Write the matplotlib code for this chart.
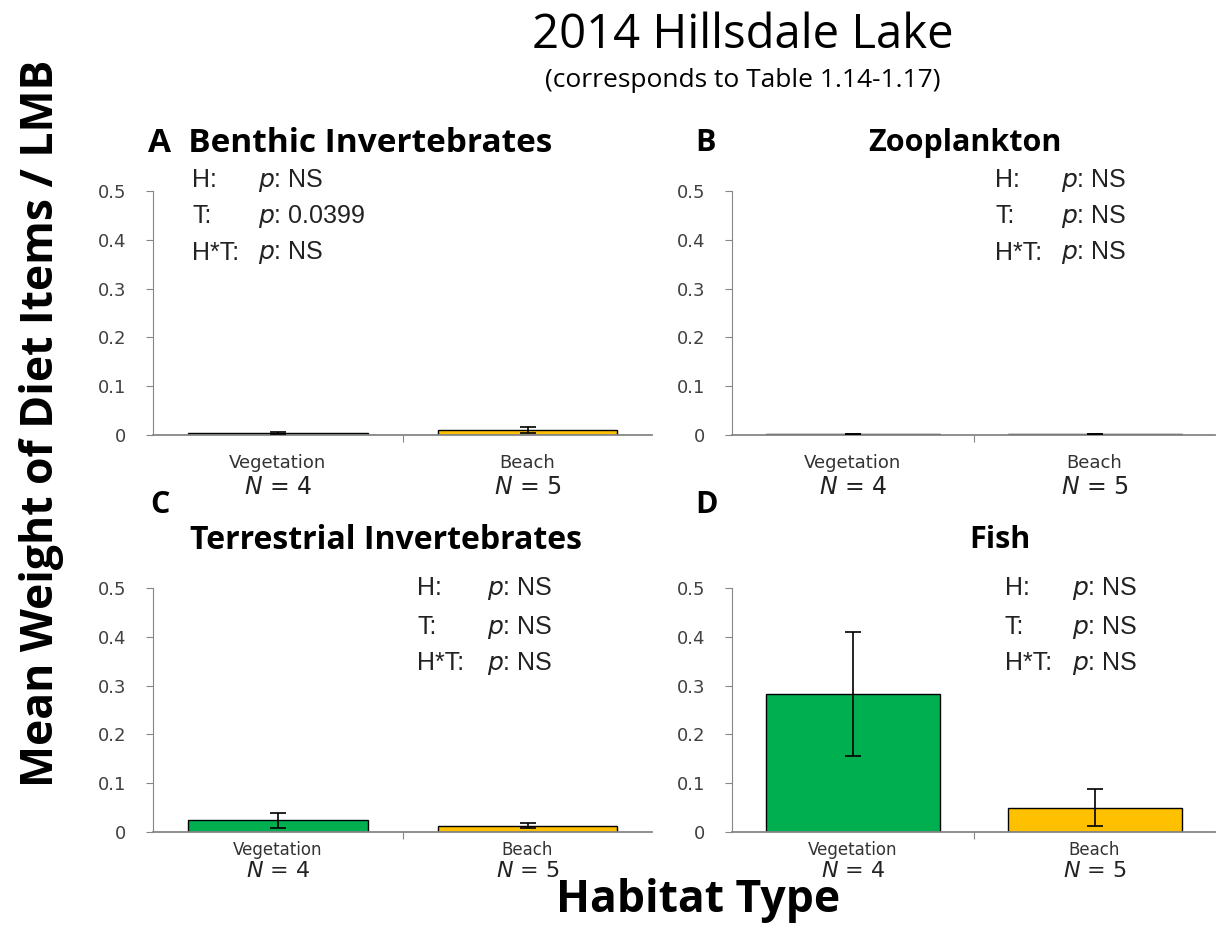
import numpy as np
import matplotlib.pyplot as plt

# ---- data ----
habitats = ['Vegetation', 'Beach']
n_labels = ['4', '5']
panel_letters = ['A', 'B', 'C', 'D']
panel_titles = ['Benthic Invertebrates', 'Zooplankton',
                'Terrestrial Invertebrates', 'Fish']
means = {
    'A': [0.003, 0.010],
    'B': [0.002, 0.002],
    'C': [0.024, 0.013],
    'D': [0.283, 0.050],
}
errors = {
    'A': [0.002, 0.006],
    'B': [0.0, 0.0],
    'C': [0.016, 0.005],
    'D': [0.127, 0.038],
}
stats = {
    'A': ['NS', '0.0399', 'NS'],
    'B': ['NS', 'NS', 'NS'],
    'C': ['NS', 'NS', 'NS'],
    'D': ['NS', 'NS', 'NS'],
}
stat_names = ['H:', 'T:', 'H*T:']
yticks = [0, 0.1, 0.2, 0.3, 0.4, 0.5]
ytick_labels = ['0', '0.1', '0.2', '0.3', '0.4', '0.5']
bar_colors = ['#00B050', '#FFC000']

TITLE_FONT = 'Open Sans'
grey = '#868686'

fig = plt.figure(figsize=(12.24, 9.25), dpi=100)

# axes rectangles [left, bottom, width, height] in figure fractions
rects = {
    'A': [0.125, 0.530, 0.408, 0.263],
    'B': [0.598, 0.530, 0.395, 0.263],
    'C': [0.125, 0.1005, 0.408, 0.264],
    'D': [0.598, 0.1005, 0.395, 0.264],
}
# offsets (axes fraction) of category label / N label below the axis, font sizes
label_off = {
    'A': (-0.115, -0.214, 13, 17),
    'B': (-0.115, -0.214, 13, 17),
    'C': (-0.075, -0.158, 12, 16),
    'D': (-0.075, -0.158, 12, 16),
}
# stats text x positions (label column, p column) in figure fractions
stat_x = {
    'A': (0.157, 0.211),
    'B': (0.813, 0.867),
    'C': (0.341, 0.398),
    'D': (0.821, 0.876),
}
stat_y = {
    'A': [0.805, 0.766, 0.727],
    'B': [0.805, 0.766, 0.727],
    'C': [0.364, 0.322, 0.283],
    'D': [0.364, 0.322, 0.283],
}

for key, title in zip(panel_letters, panel_titles):
    ax = fig.add_axes(rects[key])
    x = np.arange(len(habitats))
    ax.bar(x, means[key], width=0.72, color=bar_colors,
           edgecolor='black', linewidth=1.0, zorder=2)
    ax.errorbar(x, means[key], yerr=errors[key], fmt='none',
                ecolor='black', elinewidth=1.2, capsize=6, capthick=1.2, zorder=3)
    ax.set_xlim(-0.5, 1.5)
    ax.set_ylim(0, 0.5)
    ax.set_yticks(yticks)
    ax.set_yticklabels(ytick_labels, fontsize=13, color='#404040')
    ax.set_xticks([0.5])
    ax.set_xticklabels([])
    ax.tick_params(axis='y', length=5, color=grey, direction='out', pad=14)
    ax.tick_params(axis='x', length=5, color=grey, direction='out')
    for s in ['top', 'right']:
        ax.spines[s].set_visible(False)
    ax.spines['left'].set_color(grey)
    ax.spines['bottom'].set_color(grey)
    ax.spines['bottom'].set_linewidth(1.3)

    # category labels and N
    off_cat, off_n, fs_cat, fs_n = label_off[key]
    for xi, hab, n in zip(x, habitats, n_labels):
        ax.text(xi, off_cat, hab, transform=ax.get_xaxis_transform(),
                ha='center', va='center', fontsize=fs_cat, color='#333333')
        ax.text(xi, off_n, r'$\mathit{N}$ = ' + n,
                transform=ax.get_xaxis_transform(),
                ha='center', va='center', fontsize=fs_n, color='#222222')

    # stats block
    lx, px = stat_x[key]
    for name, val, yy in zip(stat_names, stats[key], stat_y[key]):
        fig.text(lx, yy, name, fontsize=18, color='#222222',
                 family='Liberation Sans', va='center')
        fig.text(px, yy, r'$\mathit{p}$: ' + val, fontsize=18,
                 color='#222222', family='Liberation Sans', va='center')

# panel titles
fig.text(0.121, 0.845, 'A  Benthic Invertebrates', fontsize=24, weight='bold',
         family=TITLE_FONT, va='center')
fig.text(0.568, 0.845, 'B', fontsize=22, weight='bold', family=TITLE_FONT, va='center')
fig.text(0.788, 0.845, 'Zooplankton', fontsize=22, weight='bold',
         family=TITLE_FONT, va='center', ha='center')
fig.text(0.123, 0.454, 'C', fontsize=22, weight='bold', family=TITLE_FONT, va='center')
fig.text(0.315, 0.416, 'Terrestrial Invertebrates', fontsize=23, weight='bold',
         family=TITLE_FONT, va='center', ha='center')
fig.text(0.568, 0.454, 'D', fontsize=22, weight='bold', family=TITLE_FONT, va='center')
fig.text(0.817, 0.416, 'Fish', fontsize=22, weight='bold',
         family=TITLE_FONT, va='center', ha='center')

# figure titles
fig.text(0.607, 0.962, '2014 Hillsdale Lake', fontsize=34, family=TITLE_FONT,
         ha='center', va='center')
fig.text(0.607, 0.913, '(corresponds to Table 1.14-1.17)', fontsize=19,
         family=TITLE_FONT, ha='center', va='center')
fig.text(0.034, 0.542, 'Mean Weight of Diet Items / LMB', fontsize=32,
         weight='bold', family=TITLE_FONT, rotation=90, ha='center', va='center')
fig.text(0.570, 0.014, 'Habitat Type', fontsize=32, weight='bold',
         family=TITLE_FONT, ha='center', va='baseline')

fig.savefig('out.png', dpi=100, facecolor='white')
